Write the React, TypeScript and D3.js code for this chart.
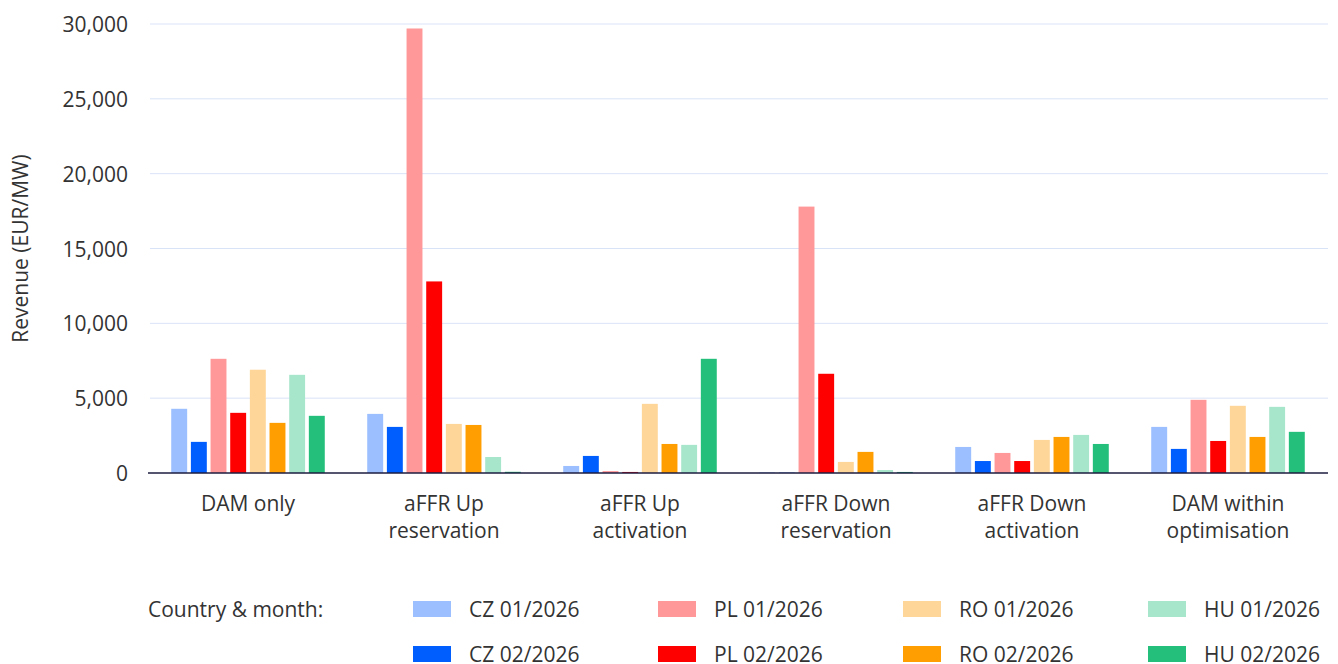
import React from "react";
import * as d3 from "d3";

const categories: string[][] = [
  ["DAM only"],
  ["aFFR Up", "reservation"],
  ["aFFR Up", "activation"],
  ["aFFR Down", "reservation"],
  ["aFFR Down", "activation"],
  ["DAM within", "optimisation"],
];

const seriesNames = [
  "CZ 01/2026",
  "CZ 02/2026",
  "PL 01/2026",
  "PL 02/2026",
  "RO 01/2026",
  "RO 02/2026",
  "HU 01/2026",
  "HU 02/2026",
];

const seriesColors = [
  "#9bbfff",
  "#005eff",
  "#ff9999",
  "#ff0000",
  "#ffd699",
  "#ff9e00",
  "#a8e6cc",
  "#24bf7a",
];

// values per series, one per category
const cz01 = [4290, 3950, 470, 40, 1740, 3080];
const cz02 = [2080, 3080, 1140, 20, 800, 1610];
const pl01 = [7630, 29700, 130, 17800, 1340, 4890];
const pl02 = [4020, 12800, 70, 6630, 800, 2140];
const ro01 = [6900, 3280, 4620, 740, 2210, 4490];
const ro02 = [3350, 3210, 1940, 1410, 2410, 2410];
const hu01 = [6560, 1070, 1880, 200, 2545, 4420];
const hu02 = [3820, 80, 7630, 70, 1940, 2750];

const seriesValues = [cz01, cz02, pl01, pl02, ro01, ro02, hu01, hu02];

const yTicks = [0, 5000, 10000, 15000, 20000, 25000, 30000];

const legendTitle = "Country & month:";
const yTitle = "Revenue (EUR/MW)";

export default function App() {
  const W = 1338;
  const H = 664;
  const left = 150;
  const right = 1328;
  const bottom = 473;
  const top = 24;
  const font = "'Open Sans', 'Noto Sans', sans-serif";
  const fs = 21;
  const textColor = "#333333";

  const x0 = d3
    .scaleBand<number>()
    .domain(d3.range(categories.length))
    .range([left, 1326])
    .padding(0);
  const x1 = d3
    .scaleBand<number>()
    .domain(d3.range(seriesNames.length))
    .range([0, x0.bandwidth()])
    .paddingInner(0.19)
    .paddingOuter(1.08);
  const y = d3.scaleLinear().domain([0, 30000]).range([bottom, top]);
  const fmt = d3.format(",");

  const legendCols = [413, 658, 903, 1148];
  const legendRows = [609, 654];

  return (
    <svg
      width={W}
      height={H}
      style={{ position: "absolute", left: 0, top: 0, display: "block" }}
      fontFamily={font}
    >
      <rect x={0} y={0} width={W} height={H} fill="#ffffff" />
      {yTicks.map((t) => (
        <g key={t}>
          {t !== 0 && (
            <line
              x1={left}
              x2={right}
              y1={y(t)}
              y2={y(t)}
              stroke="#d9e3f7"
              strokeWidth={1}
            />
          )}
          <text
            x={128}
            y={y(t)}
            textAnchor="end"
            dominantBaseline="central"
            fontSize={fs}
            fill={textColor}
          >
            {fmt(t)}
          </text>
        </g>
      ))}
      <text
        transform={`translate(20, ${(top + bottom) / 2}) rotate(-90)`}
        textAnchor="middle"
        dominantBaseline="central"
        fontSize={fs}
        fill={textColor}
      >
        {yTitle}
      </text>
      {seriesValues.map((vals, si) =>
        vals.map((v, ci) => (
          <rect
            key={`${si}-${ci}`}
            x={(x0(ci) as number) + (x1(si) as number)}
            y={y(v)}
            width={x1.bandwidth()}
            height={bottom - y(v)}
            fill={seriesColors[si]}
          />
        ))
      )}
      <line
        x1={148}
        x2={right}
        y1={bottom}
        y2={bottom}
        stroke="#1c1c40"
        strokeWidth={1.5}
      />
      {categories.map((lines, ci) => (
        <text
          key={ci}
          x={(x0(ci) as number) + x0.bandwidth() / 2}
          y={503}
          textAnchor="middle"
          dominantBaseline="central"
          fontSize={fs}
          fill={textColor}
        >
          {lines.map((l, li) => (
            <tspan key={li} x={(x0(ci) as number) + x0.bandwidth() / 2} dy={li === 0 ? 0 : 27}>
              {l}
            </tspan>
          ))}
        </text>
      ))}
      <text
        x={148}
        y={legendRows[0]}
        dominantBaseline="central"
        fontSize={fs}
        fill={textColor}
      >
        {legendTitle}
      </text>
      {seriesNames.map((name, i) => {
        const col = Math.floor(i / 2);
        const row = i % 2;
        const lx = legendCols[col];
        const ly = legendRows[row];
        return (
          <g key={name}>
            <rect x={lx} y={ly - 8} width={38} height={16} fill={seriesColors[i]} />
            <text
              x={lx + 56}
              y={ly}
              dominantBaseline="central"
              fontSize={fs}
              fill={textColor}
            >
              {name}
            </text>
          </g>
        );
      })}
    </svg>
  );
}
